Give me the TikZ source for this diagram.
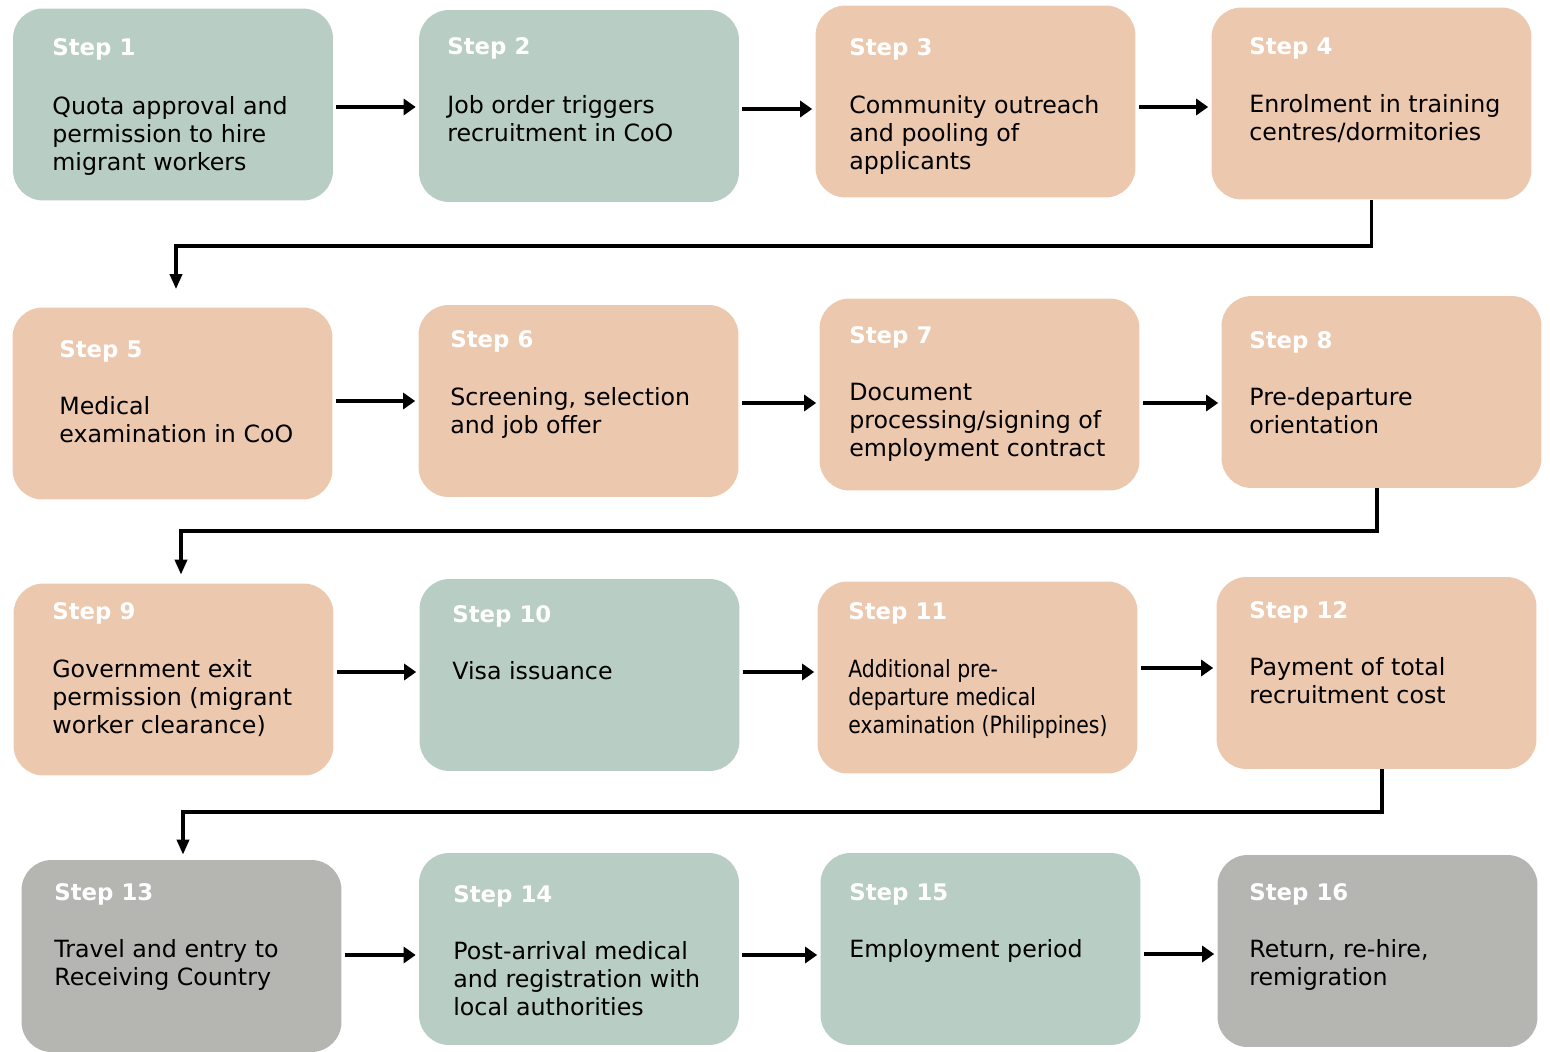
\documentclass[tikz,border=0pt]{standalone}
\usepackage{fontspec}
\setmainfont{DejaVu Sans}
\newfontfamily\narrowfont[FakeStretch=0.86]{DejaVu Sans}
\usetikzlibrary{arrows.meta}
\definecolor{boxgreen}{HTML}{B8CDC4}
\definecolor{boxpeach}{HTML}{ECC8AF}
\definecolor{boxgrey}{HTML}{B5B6B1}
\tikzset{
  box/.style={rounded corners=0.6cm, minimum width=6.4cm, minimum height=3.84cm, inner sep=0},
  steplabel/.style={anchor=base west, inner sep=0, text=white, font=\bfseries\fontsize{13}{15}\selectfont},
  body/.style={anchor=north west, inner sep=0, align=left, font=\fontsize{13.5}{16}\selectfont},
  flow/.style={-{Triangle[length=0.24cm, width=0.32cm]}, line width=0.08cm, shorten <=0.06cm, shorten >=0.06cm},
  turn/.style={-{Triangle[length=0.3cm, width=0.24cm]}, line width=0.07cm}
}

\begin{document}
\begin{tikzpicture}[x=0.02cm, y=-0.02cm]
\useasboundingbox (0,0) rectangle (1550,1051);

% boxes
\node[box, fill=boxgreen] (s1) at (173,104.5) {};
\node[box, fill=boxgreen] (s2) at (579,106) {};
\node[box, fill=boxpeach] (s3) at (975.5,101.5) {};
\node[box, fill=boxpeach] (s4) at (1371.5,103.5) {};
\node[box, fill=boxpeach] (s5) at (172.5,403.5) {};
\node[box, fill=boxpeach] (s6) at (578.5,401) {};
\node[box, fill=boxpeach] (s7) at (979.5,394.5) {};
\node[box, fill=boxpeach] (s8) at (1381.5,392) {};
\node[box, fill=boxpeach] (s9) at (173.5,679.5) {};
\node[box, fill=boxgreen] (s10) at (579.5,675) {};
\node[box, fill=boxpeach] (s11) at (977.5,677.5) {};
\node[box, fill=boxpeach] (s12) at (1376.5,673) {};
\node[box, fill=boxgrey] (s13) at (181.5,956) {};
\node[box, fill=boxgreen] (s14) at (579,949) {};
\node[box, fill=boxgreen] (s15) at (980.5,949) {};
\node[box, fill=boxgrey] (s16) at (1377.5,951) {};

% step labels
\node[steplabel] (l1) at (52,56) {Step 1};
\node[steplabel] (l2) at (447,55) {Step 2};
\node[steplabel] (l3) at (849,56) {Step 3};
\node[steplabel] (l4) at (1249,55) {Step 4};
\node[steplabel] (l5) at (59,357) {Step 5};
\node[steplabel] (l6) at (450,347) {Step 6};
\node[steplabel] (l7) at (849,343) {Step 7};
\node[steplabel] (l8) at (1249,348) {Step 8};
\node[steplabel] (l9) at (52,619) {Step 9};
\node[steplabel] (l10) at (452,622) {Step 10};
\node[steplabel] (l11) at (848,619) {Step 11};
\node[steplabel] (l12) at (1249,618) {Step 12};
\node[steplabel] (l13) at (54,900) {Step 13};
\node[steplabel] (l14) at (453,902) {Step 14};
\node[steplabel] (l15) at (849,900) {Step 15};
\node[steplabel] (l16) at (1249,900) {Step 16};

% texts
\node[body] (t1) at (52,96) {Quota approval and\\permission to hire\\migrant workers};
\node[body] (t2) at (447,95) {Job order triggers\\recruitment in CoO};
\node[body] (t3) at (849,95) {Community outreach\\and pooling of\\applicants};
\node[body] (t4) at (1249,94) {Enrolment in training\\centres/dormitories};
\node[body] (t5) at (59,396) {Medical\\examination in CoO};
\node[body] (t6) at (450,387) {Screening, selection\\and job offer};
\node[body] (t7) at (849,383) {Document\\processing/signing of\\employment contract};
\node[body] (t8) at (1249,387) {Pre-departure\\orientation};
\node[body] (t9) at (52,659) {Government exit\\permission (migrant\\worker clearance)};
\node[body] (t10) at (452,661) {Visa issuance};
\node[body, font=\narrowfont\fontsize{13.5}{16}\selectfont] (t11) at (848,659) {Additional pre-\\departure medical\\examination (Philippines)};
\node[body] (t12) at (1249,657) {Payment of total\\recruitment cost};
\node[body] (t13) at (54,939) {Travel and entry to\\Receiving Country};
\node[body] (t14) at (453,941) {Post-arrival medical\\and registration with\\local authorities};
\node[body] (t15) at (849,939) {Employment period};
\node[body] (t16) at (1249,939) {Return, re-hire,\\remigration};

% arrows in each row
\foreach \a/\b/\y in {s1/s2/107, s2/s3/109, s3/s4/107, s5/s6/401, s6/s7/403, s7/s8/403,
    s9/s10/672, s10/s11/672, s11/s12/668, s13/s14/955, s14/s15/955, s15/s16/954}
  \draw[flow] (\a.east |- 0,\y) -- (\b.west |- 0,\y);

% turns to the next row
\coordinate (k1) at (0,246);
\coordinate (k2) at (0,531);
\coordinate (k3) at (0,812);
\coordinate (e4) at (s4.south);
\coordinate (e5) at ([xshift=0.07cm]s5.north);
\coordinate (e8) at ([xshift=-0.09cm]s8.south);
\coordinate (e9) at ([xshift=0.15cm]s9.north);
\coordinate (e12) at ([xshift=0.11cm]s12.south);
\coordinate (e13) at ([xshift=0.03cm]s13.north);
\draw[turn, shorten >=0.36cm] (e4) |- (k1 -| e5) -- (e5);
\draw[turn, shorten >=0.17cm] (e8) |- (k2 -| e9) -- (e9);
\draw[turn, shorten >=0.1cm] (e12) |- (k3 -| e13) -- (e13);
\end{tikzpicture}
\end{document}
